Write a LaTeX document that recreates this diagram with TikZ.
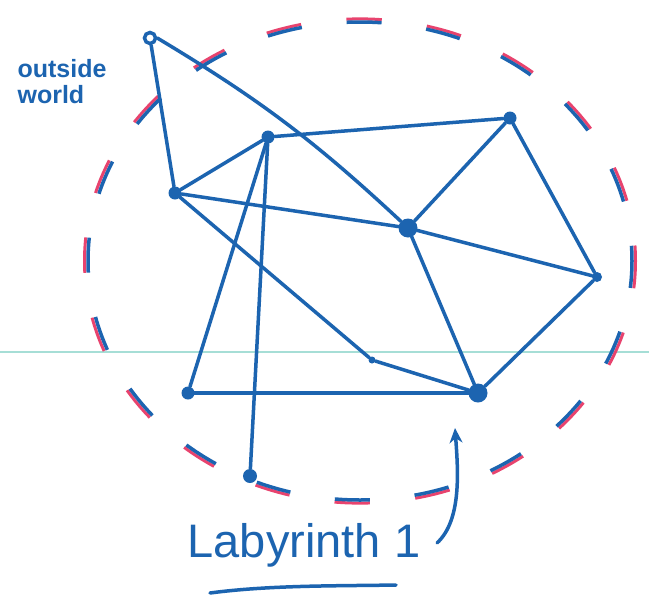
\documentclass[tikz,border=0pt]{standalone}
\usepackage{fontspec}
\setmainfont{Liberation Sans}
\usetikzlibrary{arrows.meta}
\definecolor{pen}{HTML}{1C64B0}
\definecolor{redpen}{HTML}{E8436E}
\definecolor{cyanline}{HTML}{A6DED6}
\tikzset{
  ink/.style={draw=pen, line width=3.5pt, line cap=round, line join=round},
  dot/.style={circle, fill=pen, inner sep=0pt, minimum size=13pt},
  bigdot/.style={circle, fill=pen, inner sep=0pt, minimum size=19pt},
  opendot/.style={circle, draw=pen, line width=3.5pt, fill=white, inner sep=0pt, minimum size=11pt},
}
\begin{document}
\begin{tikzpicture}[x=1pt,y=-1pt]
\useasboundingbox (0,0) rectangle (649,611);
\fill[white] (0,0) rectangle (649,611);
% faint horizontal line
\coordinate (l1) at (0,352);
\coordinate (l2) at (649,352);
\draw[cyanline, line width=1.5pt] (l1) -- (l2);
% dashed boundary (double-stroke pen)
\draw[redpen, line width=3pt, dash pattern=on 35.45pt off 45.58pt, dash phase=8.1pt] (360,261) ellipse [x radius=275.5, y radius=242.1];
\draw[pen, line width=3.5pt, dash pattern=on 35pt off 45pt, dash phase=8pt] (360,261) ellipse [x radius=272, y radius=239];
% nodes
\node[opendot] (o) at (150,38) {};
\node[dot] (a) at (175,193) {};
\node[dot] (b) at (268,137) {};
\node[dot] (c) at (510,118) {};
\node[bigdot] (d) at (408,228) {};
\node[dot, minimum size=10pt] (e) at (597,277) {};
\node[dot] (f) at (188,393) {};
\node[bigdot] (g) at (478,393) {};
\node[dot, minimum size=14pt] (h) at (250,476) {};
\node[dot, minimum size=7pt] (m) at (372,360) {};
% connectors
\draw[ink] (o) -- (a);
\draw[ink] (o.east) to[bend left=6] (d);
\draw[ink] (a) -- (b);
\draw[ink] (b) -- (c);
\draw[ink] (c) -- (d);
\draw[ink] (c) -- (e);
\draw[ink] (a) -- (d);
\draw[ink] (d) -- (e);
\draw[ink] (a) -- (m) -- (g);
\draw[ink] (b) -- (f);
\draw[ink] (b) -- (h);
\draw[ink] (d) -- (g);
\draw[ink] (e) -- (g);
\draw[ink] (f) -- (g);
% labels
\node[text=pen, font=\bfseries\fontsize{25}{28}\selectfont, align=left] (out) at (62,82) {outside\\[-2pt]world};
\node[text=pen, font=\fontsize{47}{52}\selectfont] (lab) at (304,545) {Labyrinth 1};
\coordinate (arrs) at (437,543);
\coordinate (arre) at (455,428);
\draw[ink, -{Stealth[length=15pt,width=13pt]}] (arrs) .. controls (462,520) and (458,470) .. (arre);
\coordinate (u1) at (210,593);
\coordinate (u2) at (396,585);
\draw[ink] (u1) .. controls (270,585) and (340,586) .. (u2);
\end{tikzpicture}
\end{document}
